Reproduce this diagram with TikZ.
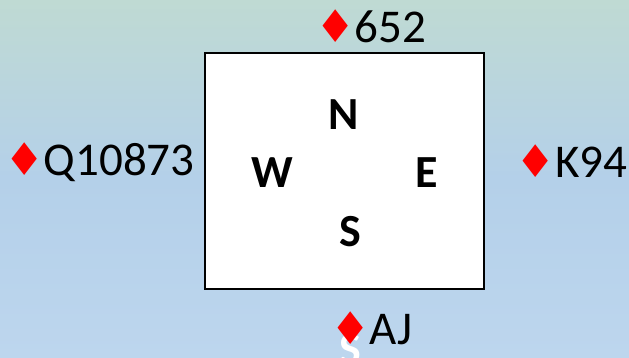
\documentclass[tikz,border=0pt]{standalone}
\usepackage{fontspec}
\setmainfont{Carlito}
\newfontfamily\suitfont{DejaVu Sans}
\usepackage{xcolor}
\usepackage{tikz}
\usetikzlibrary{positioning}

\definecolor{bgtop}{RGB}{191,218,211}
\definecolor{bgmid}{RGB}{180,208,233}
\definecolor{bgbot}{RGB}{189,214,238}
\definecolor{suitred}{RGB}{255,0,0}

\newcommand{\dia}{{\suitfont\fontsize{45}{47}\selectfont\color{suitred}\char"2666}\kern-1pt}

\begin{document}
\begin{tikzpicture}[
  x=1pt, y=-1pt,
  table/.style={rectangle, draw, line width=2pt, fill=white, minimum width=279pt, minimum height=236pt, inner sep=0pt},
  seat/.style={font=\fontsize{46}{50}\selectfont\bfseries, inner sep=0pt},
  hand/.style={font=\fontsize{47}{56}\selectfont, inner sep=0pt}
]
% background
\shade[top color=bgtop, bottom color=bgbot, middle color=bgmid] (0,0) rectangle (629,358);
\useasboundingbox (0,0) rectangle (629,358);
\clip (0,0) rectangle (629,358);

\node[table] (tbl) at (344.5,171) {};

% seats
\node[seat] (north) at (344,114.5) {N};
\node[seat] (west) at (272,173) {W};
\node[seat] (east) at (427,173) {E};
\node[seat] (south) at (350,232) {S};

% hidden label below
\node[seat, text=white] (southlbl) at (350,350) {S};

% hands
\node[hand] (nhand) at (370.5,26) {\dia652};
\node[hand] (whand) at (99.5,162) {\dia Q10873};
\node[hand] (ehand) at (571.5,161) {\dia K94};
\node[hand] (shand) at (371.5,328) {\dia AJ};
\end{tikzpicture}
\end{document}
